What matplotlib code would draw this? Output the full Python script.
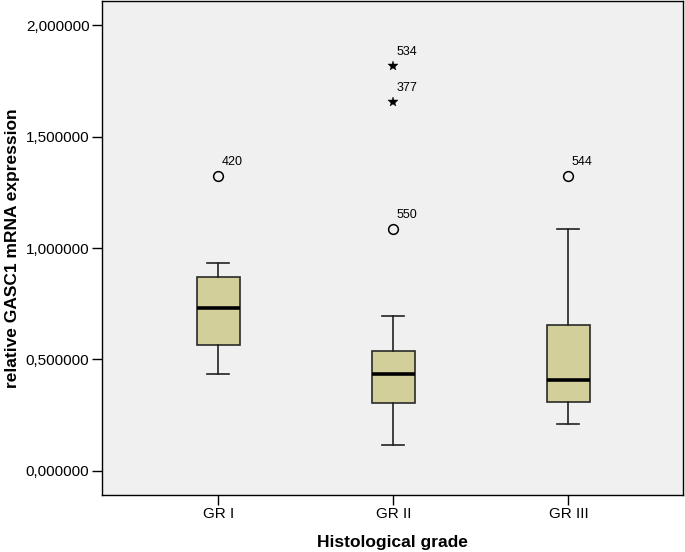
import matplotlib
matplotlib.use("Agg")
import matplotlib.pyplot as plt
from matplotlib.ticker import FuncFormatter

plt.rcParams['font.family'] = ['Liberation Sans', 'DejaVu Sans']

# data
groups = ["GR I", "GR II", "GR III"]
whislo = [0.433, 0.116, 0.209]
q1 = [0.566, 0.306, 0.309]
med = [0.729, 0.433, 0.409]
q3 = [0.868, 0.540, 0.654]
whishi = [0.934, 0.697, 1.087]
# outliers: (group index, value, case label, marker)
out_group = [0, 1, 1, 1, 2]
out_value = [1.322, 1.818, 1.658, 1.086, 1.325]
out_label = ["420", "534", "377", "550", "544"]
out_extreme = [False, True, True, False, False]

bg = "#F0F0F0"
boxcol = "#D3CF9B"

fig = plt.figure(figsize=(6.85, 5.52), dpi=100)
ax = fig.add_axes([102 / 685, 57 / 552, 581 / 685, 494 / 552])
ax.set_facecolor(bg)

pos = [1, 2, 3]
stats = []
for i in range(len(groups)):
    stats.append(dict(med=med[i], q1=q1[i], q3=q3[i], whislo=whislo[i],
                      whishi=whishi[i], fliers=[], label=groups[i]))

ax.bxp(stats, positions=pos, widths=0.25, capwidths=0.125, patch_artist=True,
       showfliers=False,
       boxprops=dict(facecolor=boxcol, edgecolor="#2a2a2a", linewidth=1.2),
       medianprops=dict(color="black", linewidth=2.6, solid_capstyle="butt"),
       whiskerprops=dict(color="#222222", linewidth=1.2),
       capprops=dict(color="#222222", linewidth=1.2))

# outliers with case numbers
for g, v, lab, ext in zip(out_group, out_value, out_label, out_extreme):
    x = pos[g]
    if ext:
        ax.plot(x, v, marker="*", markersize=7, color="black", markeredgewidth=0.3,
                linestyle="none")
    else:
        ax.plot(x, v, marker="o", markersize=7, markerfacecolor="none",
                markeredgecolor="black", markeredgewidth=1.1, linestyle="none")
    ax.annotate(lab, (x, v), xytext=(3, 8), textcoords="offset pixels",
                fontsize=9, ha="left", va="bottom")

ax.set_xlim(0.335, 3.655)
ax.set_ylim(-0.109, 2.11)
ax.set_yticks([0, 0.5, 1.0, 1.5, 2.0])
ax.yaxis.set_major_formatter(FuncFormatter(lambda v, p: ("%.6f" % v).replace(".", ",")))
ax.set_xticks(pos)
ax.set_xticklabels(groups)
ax.tick_params(axis="both", direction="out", length=7, width=1, labelsize=11,
               pad=2, colors="black")
for s in ax.spines.values():
    s.set_color("black")
    s.set_linewidth(1.0)

ax.set_xlabel("Histological grade", fontsize=12.5, fontweight="bold", labelpad=10)
ax.set_ylabel("relative GASC1 mRNA expression", fontsize=12.5, fontweight="bold",
              labelpad=4)

fig.savefig("out.png", dpi=100, facecolor="white")
